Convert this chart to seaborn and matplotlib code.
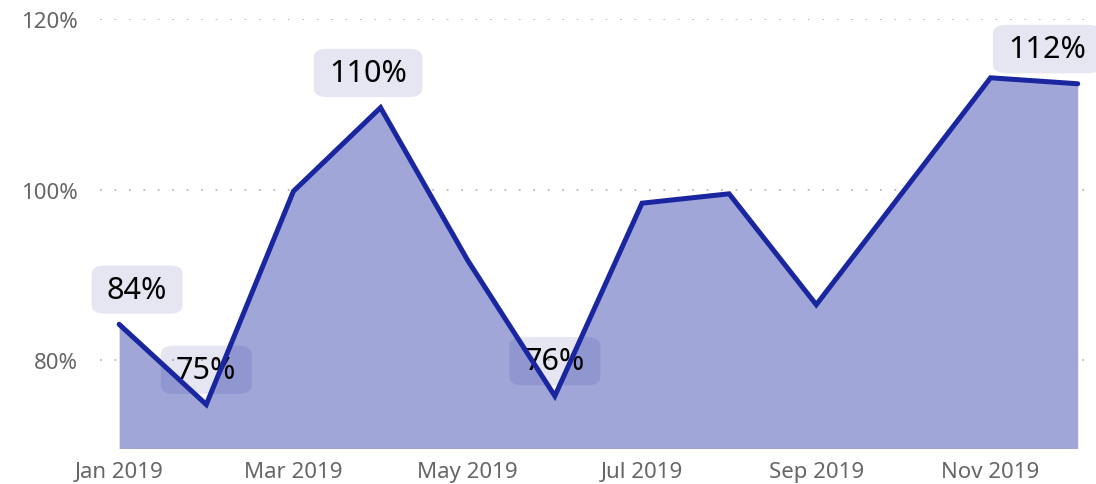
import matplotlib
matplotlib.use("Agg")
import matplotlib.pyplot as plt
import seaborn as sns
import pandas as pd
import numpy as np

months = ["Jan", "Feb", "Mar", "Apr", "May", "Jun", "Jul", "Aug", "Sep", "Oct", "Nov", "Dec"]
values = [84.2, 74.8, 99.8, 109.6, 91.7, 75.8, 98.4, 99.5, 86.5, 99.8, 113.1, 112.4]
tick_labels = ["Jan 2019", "Mar 2019", "May 2019", "Jul 2019", "Sep 2019", "Nov 2019"]
y_ticks = [80, 100, 120]
labeled = {"Jan": "84%", "Feb": "75%", "Apr": "110%", "Jun": "76%", "Dec": "112%"}

sns.set_theme(style="white")
plt.rcParams["font.family"] = ["Noto Sans", "DejaVu Sans"]

df = pd.DataFrame({"month": months, "value": values})
df["idx"] = np.arange(len(months))

fig = plt.figure(figsize=(10.96, 4.85), dpi=100)
ax = fig.add_axes([0.0912, 0.0742, 0.9088, 0.8847])

line_color = "#1a269f"
fill_color = "#a0a6d8"

ax.fill_between(df["idx"], df["value"], 60, color=fill_color, linewidth=0, zorder=1)
sns.lineplot(data=df, x="idx", y="value", ax=ax, color=line_color, linewidth=3.6,
             zorder=4, solid_capstyle="round", solid_joinstyle="miter")

ax.set_xlim(-0.22, 11.21)
ax.set_ylim(69.7, 120)

for y in y_ticks:
    ax.axhline(y, color="#b8b8b8", linestyle=(0, (1, 7)), linewidth=1.3, zorder=0.5)

ax.set_yticks(y_ticks)
ax.set_yticklabels([f"{v}%" for v in y_ticks])
ax.set_xticks([0, 2, 4, 6, 8, 10])
ax.set_xticklabels(tick_labels)
ax.tick_params(axis="both", colors="#666666", labelsize=16, length=0)
ax.tick_params(axis="y", pad=16)
ax.tick_params(axis="x", pad=9)
ax.set_xlabel("")
ax.set_ylabel("")
for s in ax.spines.values():
    s.set_visible(False)

xshift = {"Jan": 13, "Dec": -22, "Apr": -9}
for m, txt in labeled.items():
    i = months.index(m)
    ax.annotate(txt, (i, values[i]), xytext=(xshift.get(m, 0), 25), textcoords="offset points",
                ha="center", va="center", fontsize=22, color="black", zorder=3,
                annotation_clip=False,
                bbox=dict(boxstyle="round,pad=0.5,rounding_size=0.45", mutation_aspect=0.6,
                          fc=(0.03, 0.06, 0.53, 0.1), ec="none"))

fig.savefig("out.png", dpi=100)
